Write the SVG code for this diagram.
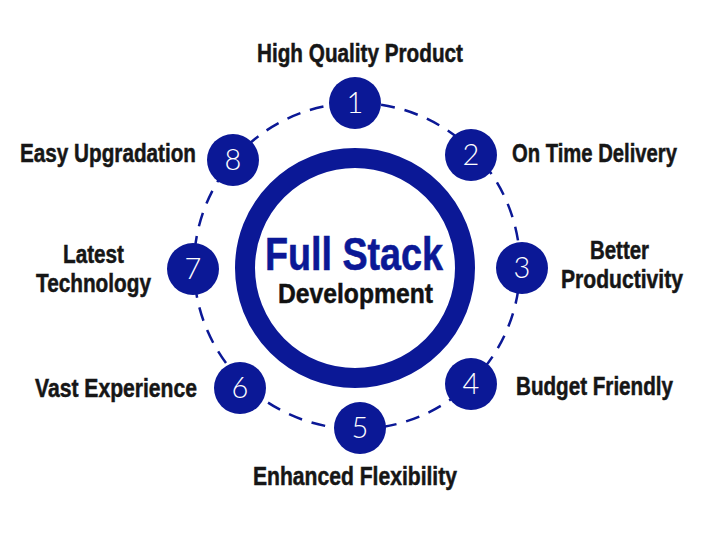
<svg xmlns="http://www.w3.org/2000/svg" width="710" height="542" viewBox="0 0 710 542">
<style>
.lbl{font-family:"Liberation Sans","Noto Sans",sans-serif;font-weight:bold;font-size:25px;fill:#161616;stroke:#161616;stroke-width:0.5}
.num{font-family:"Lato","Open Sans",sans-serif;font-weight:300;font-size:29px;fill:#ffffff;text-anchor:middle}
.node{fill:#0b1896}
</style>
<rect width="710" height="542" fill="#ffffff"/>
<g id="connectors">
<circle cx="357" cy="266" r="163" fill="none" stroke="#0b1896" stroke-width="2.5" stroke-dasharray="14 10"/>
</g>
<g id="center">
<circle cx="355" cy="268" r="110" fill="#ffffff" stroke="#0b1896" stroke-width="20"/>
<text transform="translate(265,270) scale(0.8,1)" x="0" y="0" textLength="222.5" lengthAdjust="spacingAndGlyphs" style="font-family:'Liberation Sans',sans-serif;font-weight:bold;font-size:46px;fill:#0b1896;stroke:#0b1896;stroke-width:0.6">Full Stack</text>
<text transform="translate(278,303) scale(0.8,1)" x="0" y="0" textLength="193.75" lengthAdjust="spacingAndGlyphs" style="font-family:'Liberation Sans',sans-serif;font-weight:bold;font-size:28px;fill:#111111;stroke:#111111;stroke-width:0.5">Development</text>
</g>
<g id="node1"><circle class="node" cx="355" cy="103" r="26"/><text class="num" x="355" y="113">1</text>
<text class="lbl" transform="translate(257,62) scale(0.8,1)" textLength="257.5" lengthAdjust="spacingAndGlyphs">High Quality Product</text></g>
<g id="node2"><circle class="node" cx="471" cy="155" r="26"/><text class="num" x="471" y="165">2</text>
<text class="lbl" transform="translate(512,162) scale(0.8,1)" textLength="206.25" lengthAdjust="spacingAndGlyphs">On Time Delivery</text></g>
<g id="node3"><circle class="node" cx="522" cy="268" r="26"/><text class="num" x="522" y="278">3</text>
<text class="lbl" transform="translate(590,259) scale(0.8,1)" textLength="73.75" lengthAdjust="spacingAndGlyphs">Better</text>
<text class="lbl" transform="translate(561,288) scale(0.8,1)" textLength="152.5" lengthAdjust="spacingAndGlyphs">Productivity</text></g>
<g id="node4"><circle class="node" cx="471" cy="384" r="26"/><text class="num" x="471" y="394">4</text>
<text class="lbl" transform="translate(516,395) scale(0.8,1)" textLength="196.25" lengthAdjust="spacingAndGlyphs">Budget Friendly</text></g>
<g id="node5"><circle class="node" cx="360" cy="428" r="26"/><text class="num" x="360" y="438">5</text>
<text class="lbl" transform="translate(253,485) scale(0.8,1)" textLength="255" lengthAdjust="spacingAndGlyphs">Enhanced Flexibility</text></g>
<g id="node6"><circle class="node" cx="240" cy="388" r="26"/><text class="num" x="240" y="398">6</text>
<text class="lbl" transform="translate(35,397) scale(0.8,1)" textLength="202.5" lengthAdjust="spacingAndGlyphs">Vast Experience</text></g>
<g id="node7"><circle class="node" cx="193" cy="269" r="26"/><text class="num" x="193" y="279">7</text>
<text class="lbl" transform="translate(63,263) scale(0.8,1)" textLength="76.25" lengthAdjust="spacingAndGlyphs">Latest</text>
<text class="lbl" transform="translate(36,292) scale(0.8,1)" textLength="143.75" lengthAdjust="spacingAndGlyphs">Technology</text></g>
<g id="node8"><circle class="node" cx="233" cy="160" r="26"/><text class="num" x="233" y="170">8</text>
<text class="lbl" transform="translate(20,162) scale(0.8,1)" textLength="220" lengthAdjust="spacingAndGlyphs">Easy Upgradation</text></g>
</svg>
